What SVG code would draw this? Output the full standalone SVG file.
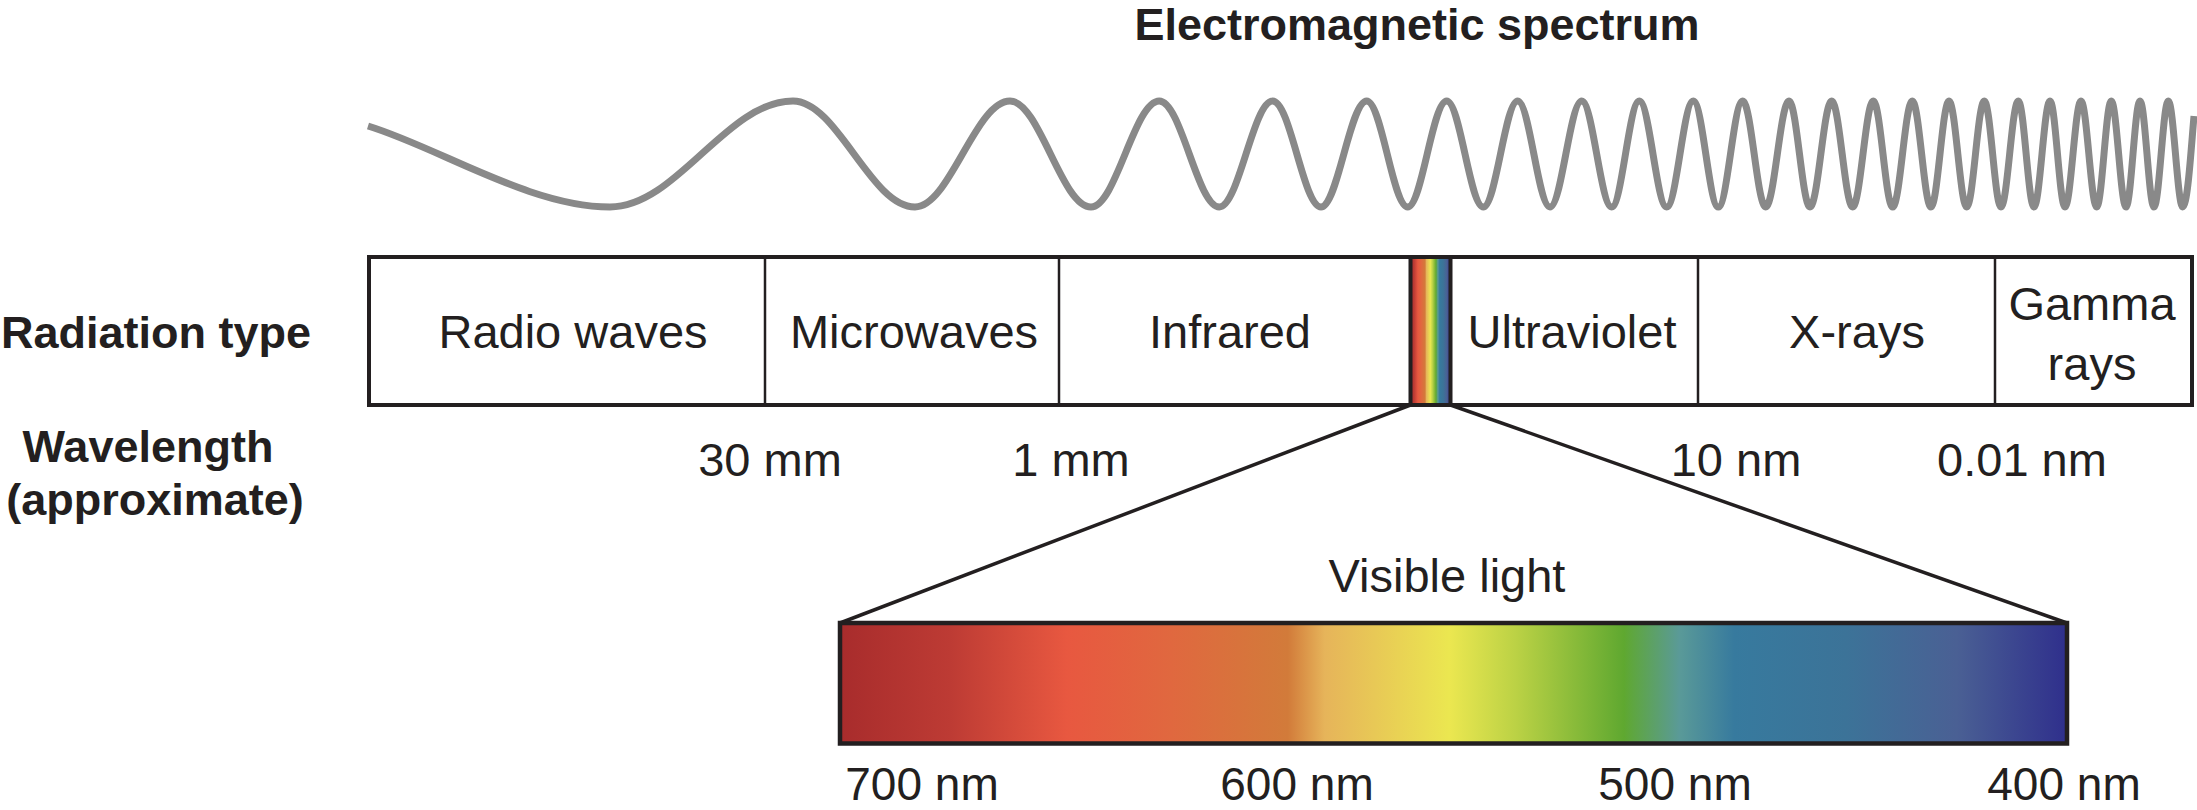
<svg xmlns="http://www.w3.org/2000/svg" width="2197" height="810" viewBox="0 0 2197 810">
  <style>
    .t { font-family: "Liberation Sans", Arial, sans-serif; fill: #231f20; }
    .reg { font-size: 47px; font-weight: 400; }
    .bold { font-size: 45px; font-weight: 700; }
    .mid { text-anchor: middle; }
    .box { fill: none; stroke: #231f20; stroke-width: 4; }
    .div { stroke: #231f20; stroke-width: 2.5; }
    .conn { stroke: #231f20; stroke-width: 3.5; fill: none; }
    .wave { fill: none; stroke: #898989; stroke-width: 7; stroke-linejoin: round; }
  </style>
  <defs>
    <linearGradient id="spectrum" x1="0" y1="0" x2="1" y2="0">
      <stop offset="0" stop-color="#a82c2c"/>
      <stop offset="0.09" stop-color="#bd3b34"/>
      <stop offset="0.185" stop-color="#e85840"/>
      <stop offset="0.27" stop-color="#e0683f"/>
      <stop offset="0.365" stop-color="#d27b3a"/>
      <stop offset="0.395" stop-color="#e6b45a"/>
      <stop offset="0.497" stop-color="#ebe750"/>
      <stop offset="0.55" stop-color="#bcd245"/>
      <stop offset="0.639" stop-color="#5fa830"/>
      <stop offset="0.684" stop-color="#5a9a98"/>
      <stop offset="0.729" stop-color="#377a9e"/>
      <stop offset="0.82" stop-color="#3c7398"/>
      <stop offset="0.91" stop-color="#4a6094"/>
      <stop offset="1" stop-color="#2f2f8c"/>
    </linearGradient>
  </defs>

  <g id="title">
    <text class="t bold mid" x="1417" y="40" font-size="44">Electromagnetic spectrum</text>
  </g>

  <g id="wave">
    <path class="wave" d="M368,126 C440,148 530,207 610,207
      C676.5,207 726.5,101 793,101
      C837.3,101 870.7,207 915,207
      C949.5,207 975.5,101 1010,101
      C1039.4,101 1061.6,207 1091,207
      C1115.8,207 1134.5,101 1159.3,101
      C1181.1,101 1197.5,207 1219.3,207
      C1238.7,207 1253.3,101 1272.7,101
      C1290.3,101 1303.4,207 1321,207
      C1337.6,207 1350.1,101 1366.7,101
      C1381.6,101 1392.8,207 1407.7,207
      C1421.9,207 1432.5,101 1446.7,101
      C1460,101 1470,207 1483.3,207
      C1495.8,207 1505.2,101 1517.7,101
      C1529.4,101 1538.3,207 1550,207
      C1561.5,207 1570.2,101 1581.7,101
      C1592.6,101 1600.8,207 1611.7,207
      C1621.7,207 1629.3,101 1639.3,101
      C1649.3,101 1656.7,207 1666.7,207
      C1676.4,207 1683.6,101 1693.3,101
      C1702.4,101 1709.2,207 1718.3,207
      C1727.2,207 1733.8,101 1742.7,101
      C1751.1,101 1757.3,207 1765.7,207
      C1774.2,207 1780.5,101 1789,101
      C1796.6,101 1802.4,207 1810,207
      C1817.9,207 1823.8,101 1831.7,101
      C1839.3,101 1845.1,207 1852.7,207
      C1860.2,207 1865.8,101 1873.3,101
      C1880.4,101 1885.6,207 1892.7,207
      C1899.8,207 1905.2,101 1912.3,101
      C1919.1,101 1924.2,207 1931,207
      C1937.5,207 1942.5,101 1949,101
      C1955.4,101 1960.3,207 1966.7,207
      C1973.1,207 1977.9,101 1984.3,101
      C1990.4,101 1994.9,207 2001,207
      C2007.3,207 2012,101 2018.3,101
      C2024,101 2028.3,207 2034,207
      C2039.8,207 2044.2,101 2050,101
      C2055.5,101 2059.5,207 2065,207
      C2070.8,207 2075.2,101 2081,101
      C2086.7,101 2091,207 2096.7,207
      C2102,207 2106,101 2111.3,101
      C2116.6,101 2120.7,207 2126,207
      C2131.1,207 2134.9,101 2140,101
      C2145.1,101 2148.9,207 2154,207
      C2159.2,207 2163.1,101 2168.3,101
      C2173.5,101 2177.5,207 2182.7,207
      C2187.5,207 2191,150 2194,116"/>
  </g>

  <g id="row-labels">
    <text class="t bold" x="1" y="348">Radiation type</text>
    <text class="t bold mid" x="148" y="462">Wavelength</text>
    <text class="t bold mid" x="155" y="515">(approximate)</text>
  </g>

  <g id="radiation-bar">
    <rect class="box" x="369" y="257" width="1823" height="148"/>
    <line class="div" x1="765" y1="257" x2="765" y2="405"/>
    <line class="div" x1="1059" y1="257" x2="1059" y2="405"/>
    <line class="div" x1="1698" y1="257" x2="1698" y2="405"/>
    <line class="div" x1="1995" y1="257" x2="1995" y2="405"/>
  </g>

  <g id="radio-waves"><text class="t reg mid" x="573" y="348">Radio waves</text></g>
  <g id="microwaves"><text class="t reg mid" x="914" y="348">Microwaves</text></g>
  <g id="infrared"><text class="t reg mid" x="1230" y="348">Infrared</text></g>
  <g id="visible-strip"><rect x="1410.5" y="257" width="40" height="148" fill="url(#spectrum)" stroke="#231f20" stroke-width="4"/></g>
  <g id="ultraviolet"><text class="t reg mid" x="1572" y="348">Ultraviolet</text></g>
  <g id="x-rays"><text class="t reg mid" x="1857" y="348">X-rays</text></g>
  <g id="gamma-rays">
    <text class="t reg mid" x="2092" y="320">Gamma</text>
    <text class="t reg mid" x="2092" y="380">rays</text>
  </g>

  <g id="wavelengths">
    <text class="t reg mid" x="770" y="476">30 mm</text>
    <text class="t reg mid" x="1071" y="476">1 mm</text>
    <text class="t reg mid" x="1736" y="476">10 nm</text>
    <text class="t reg mid" x="2022" y="476">0.01 nm</text>
  </g>

  <g id="connectors">
    <line class="conn" x1="1410.5" y1="405" x2="840" y2="623"/>
    <line class="conn" x1="1450.5" y1="405" x2="2067" y2="623"/>
  </g>

  <g id="visible-light">
    <text class="t reg mid" x="1447" y="592">Visible light</text>
    <rect x="840" y="623" width="1227" height="120.5" fill="url(#spectrum)" stroke="#231f20" stroke-width="4.5"/>
    <text class="t mid" x="922" y="800" font-size="46">700 nm</text>
    <text class="t mid" x="1297" y="800" font-size="46">600 nm</text>
    <text class="t mid" x="1675" y="800" font-size="46">500 nm</text>
    <text class="t mid" x="2064" y="800" font-size="46">400 nm</text>
  </g>
</svg>
